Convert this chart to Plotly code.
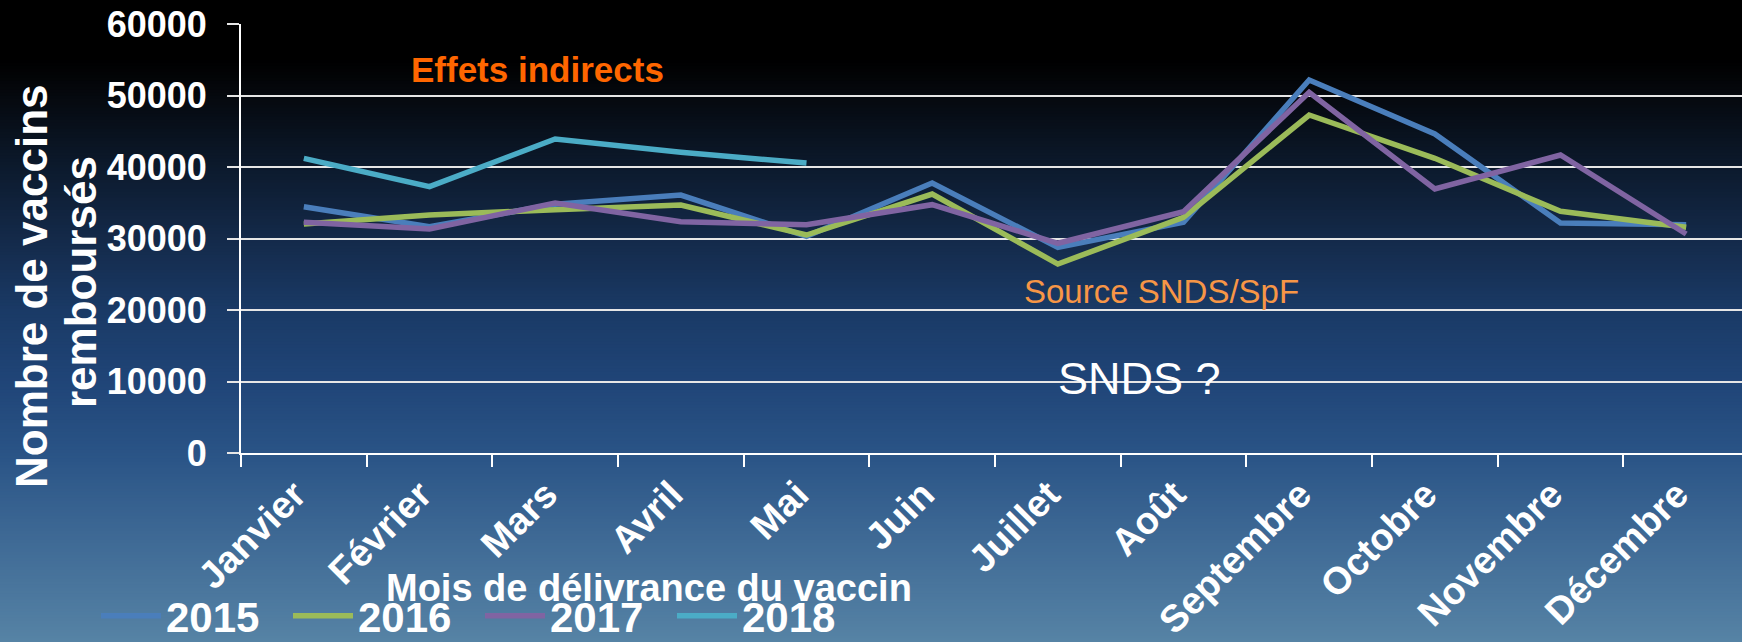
import plotly.graph_objects as go

# ---------------- data ----------------
months = ["Janvier", "Février", "Mars", "Avril", "Mai", "Juin", "Juillet",
          "Août", "Septembre", "Octobre", "Novembre", "Décembre"]
y2015 = [34450, 31650, 34800, 36080, 30300, 37760, 28760, 32260, 52170, 44620, 32170, 31930]
y2016 = [32030, 33290, 34030, 34690, 30490, 36220, 26430, 32960, 47270, 41220, 33800, 31560]
y2017 = [32260, 31330, 34970, 32350, 31930, 34730, 29330, 33750, 50450, 36920, 41680, 30630]
y2018 = [41200, 37250, 43920, 42050, 40560, None, None, None, None, None, None, None]
series_names = ["2015", "2016", "2017", "2018"]
series_values = [y2015, y2016, y2017, y2018]
series_colors = ["#4a7ebb", "#9bbb59", "#8064a2", "#4bacc6"]
y_ticks = [0, 10000, 20000, 30000, 40000, 50000, 60000]

# ---------------- geometry ----------------
W, H = 1742, 642
L, T = 241, 24          # plot-area left / top (px)
B = 453                 # plot-area bottom (px)
PW = W - L
PH = B - T

def px(x):
    return (x - L) / PW

def py(y):
    return (B - y) / PH

FONT = "Liberation Sans, Arial, sans-serif"

fig = go.Figure()
for name, vals, col in zip(series_names, series_values, series_colors):
    fig.add_trace(go.Scatter(x=months, y=vals, name=name, mode="lines",
                             line=dict(color=col, width=5.5),
                             connectgaps=False))

# background gradient as stripes
stops = [(0, (0, 0, 0)), (60, (0, 0, 0)), (94, (5, 8, 13)), (168, (12, 26, 45)),
         (240, (20, 42, 74)), (311, (26, 58, 102)), (383, (32, 69, 120)),
         (455, (42, 84, 134)), (533, (61, 104, 148)), (642, (86, 131, 165))]

def col_at(y):
    for (y0, c0), (y1, c1) in zip(stops[:-1], stops[1:]):
        if y0 <= y <= y1:
            t = (y - y0) / (y1 - y0) if y1 > y0 else 0
            return "rgb(%d,%d,%d)" % tuple(round(a + (b - a) * t) for a, b in zip(c0, c1))
    return "rgb(%d,%d,%d)" % stops[-1][1]

shapes = []
step = 3
for y in range(0, H, step):
    shapes.append(dict(type="rect", xref="paper", yref="paper",
                       x0=px(-2), x1=px(W + 2), y0=py(y + step + 0.5), y1=py(y - 0.5),
                       fillcolor=col_at(y + step / 2), line=dict(width=0), layer="below"))

def ann(text, x, y, size, color, bold=False, angle=0):
    f = dict(family=FONT, size=size, color=color)
    if bold:
        f["weight"] = "bold"
    return dict(text=text, x=px(x), y=py(y), xref="paper", yref="paper",
                showarrow=False, textangle=angle, xanchor="center", yanchor="middle", font=f)

annotations = [
    ann("Nombre de vaccins", 31, 286, 44, "white", True, -90),
    ann("remboursés", 80, 282, 44, "white", True, -90),
    ann("Effets indirects", 537, 69, 35, "#ff6600", True),
    ann("Source SNDS/SpF", 1161, 291, 33, "#f79646"),
    ann("SNDS ?", 1139, 378, 45, "white"),
    ann("Mois de délivrance du vaccin", 649, 588, 38, "white", True),
]

fig.update_layout(
    width=W, height=H,
    margin=dict(l=L, r=0, t=T, b=H - B, autoexpand=False),
    paper_bgcolor="black", plot_bgcolor="rgba(0,0,0,0)",
    shapes=shapes, annotations=annotations,
    showlegend=True,
    legend=dict(orientation="h", x=px(96), y=py(616), xanchor="left", yanchor="middle",
                bgcolor="rgba(0,0,0,0)", font=dict(family=FONT, size=42, color="white", weight="bold"),
                itemwidth=60, entrywidth=117, entrywidthmode="pixels", tracegroupgap=0),
    xaxis=dict(type="category", categoryorder="array", categoryarray=months,
               range=[-0.5, 11.5 - 7 / 125.67], tickangle=-45,
               tickson="boundaries", ticks="outside", ticklen=12, tickcolor="white", tickwidth=2,
               showgrid=False, showline=True, linecolor="white", linewidth=2,
               tickfont=dict(family=FONT, size=38, color="white", weight="bold"),
               ticklabelstandoff=2, ticklabelshift=-9, zeroline=False),
    yaxis=dict(range=[0, 60000], tickvals=y_ticks, ticktext=[str(v) for v in y_ticks],
               ticks="outside", ticklen=12, tickcolor="#e6e6e6", tickwidth=2,
               showgrid=True, gridcolor="#e6e6e6", gridwidth=2,
               showline=True, linecolor="white", linewidth=2, zeroline=False,
               tickfont=dict(family=FONT, size=36, color="white", weight="bold"),
               ticklabelstandoff=13),
)

fig.write_html("out.html", config={"displayModeBar": False},
               post_script="document.body.style.margin='0';document.body.style.background='#000';")
